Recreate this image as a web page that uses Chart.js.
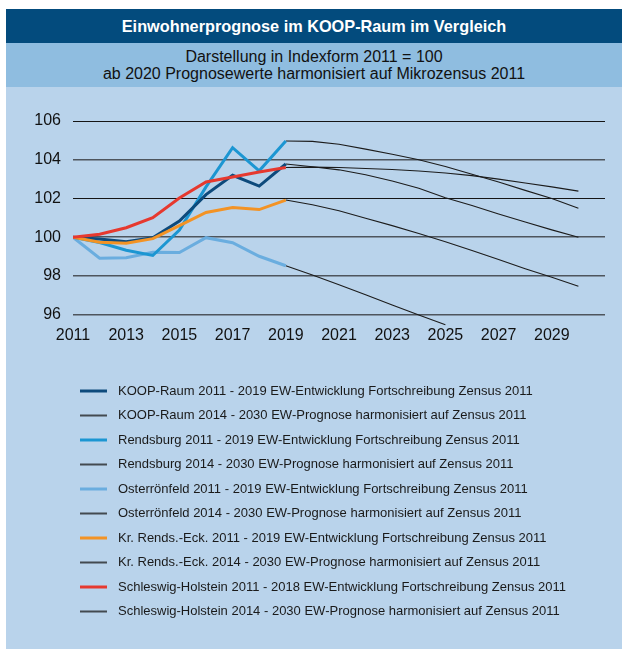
<!DOCTYPE html>
<html>
<head>
<meta charset="utf-8">
<title>Einwohnerprognose im KOOP-Raum im Vergleich</title>
<script src="https://cdn.jsdelivr.net/npm/chart.js@4.4.0/dist/chart.umd.min.js"></script>
<style>
  body { margin: 0; background: #fff; font-family: "Liberation Sans", Arial, sans-serif; }
  #panel { position: absolute; left: 6px; top: 9px; width: 616px; height: 640px; }
  #head { height: 34px; background: #034b7d; color: #fff; font-weight: bold; font-size: 16.3px; line-height: 34px; text-align: center; }
  #sub { height: 44px; background: #8fbde0; color: #111; font-size: 16px; line-height: 17px; text-align: center; padding-top: 5px; box-sizing: border-box; }
  #plot { height: 562px; background: #b9d3eb; }
  canvas { display: block; }
</style>
</head>
<body>
<div id="panel">
  <div id="head">Einwohnerprognose im KOOP-Raum im Vergleich</div>
  <div id="sub">Darstellung in Indexform 2011 = 100<br>ab 2020 Prognosewerte harmonisiert auf Mikrozensus 2011</div>
  <div id="plot"><canvas id="chart" width="616" height="562"></canvas></div>
</div>
<script>
/*--------------------DATA--------------------*/
const histYears = [2011, 2012, 2013, 2014, 2015, 2016, 2017, 2018, 2019];
const progYears = [2019, 2020, 2021, 2022, 2023, 2024, 2025, 2026, 2027, 2028, 2029, 2030];
const xTicks = [2011, 2013, 2015, 2017, 2019, 2021, 2023, 2025, 2027, 2029];
const yTicks = [96, 98, 100, 102, 104, 106];

// Entwicklung 2011 - 2019 (Index 2011 = 100)
const koopHist = [100, 99.91, 99.77, 99.97, 100.84, 102.2, 103.2, 102.64, 103.78];
const rendsHist = [100, 99.73, 99.33, 99.06, 100.37, 102.6, 104.62, 103.43, 104.97];
const osterHist = [100, 98.92, 98.94, 99.23, 99.21, 99.98, 99.72, 99.02, 98.53];
const kreisHist = [100, 99.74, 99.69, 99.93, 100.6, 101.28, 101.54, 101.43, 101.92];
const shHist = [100, 100.16, 100.49, 101.01, 102.03, 102.85, 103.11, 103.37, 103.6];

// Prognose bis 2030
const koopProg = [103.78, 103.64, 103.48, 103.23, 102.9, 102.53, 102.04, 101.64, 101.2, 100.79, 100.38, 100.0];
const rendsProg = [104.97, 104.95, 104.8, 104.55, 104.28, 104.0, 103.65, 103.25, 102.85, 102.42, 102.0, 101.5];
const osterProg = [98.53, 98.05, 97.55, 97.03, 96.5, 95.99, 95.48];
const kreisProg = [101.92, 101.68, 101.37, 100.98, 100.6, 100.19, 99.77, 99.32, 98.85, 98.38, 97.94, 97.47];
const shProg = [103.6, 103.62, 103.6, 103.55, 103.5, 103.42, 103.32, 103.18, 103.0, 102.8, 102.6, 102.38];

const labels = [
    'KOOP-Raum 2011 - 2019 EW-Entwicklung Fortschreibung Zensus 2011',
    'KOOP-Raum 2014 - 2030 EW-Prognose harmonisiert auf Zensus 2011',
    'Rendsburg 2011 - 2019 EW-Entwicklung Fortschreibung Zensus 2011',
    'Rendsburg 2014 - 2030 EW-Prognose harmonisiert auf Zensus 2011',
    'Osterrönfeld 2011 - 2019 EW-Entwicklung Fortschreibung Zensus 2011',
    'Osterrönfeld 2014 - 2030 EW-Prognose harmonisiert auf Zensus 2011',
    'Kr. Rends.-Eck. 2011 - 2019 EW-Entwicklung Fortschreibung Zensus 2011',
    'Kr. Rends.-Eck. 2014 - 2030 EW-Prognose harmonisiert auf Zensus 2011',
    'Schleswig-Holstein 2011 - 2018 EW-Entwicklung Fortschreibung Zensus 2011',
    'Schleswig-Holstein 2014 - 2030 EW-Prognose harmonisiert auf Zensus 2011'
];

/*--------------------METHOD--------------------*/
function points(years, values) {
    return values.map((v, i) => ({ x: years[i], y: v }));
}

function histSet(label, years, values, color, order) {
    return {
        label: label,
        data: points(years, values),
        borderColor: color,
        backgroundColor: color,
        borderWidth: 3,
        pointBorderWidth: 3,
        pointBorderColor: color,
        pointRadius: 0,
        pointHoverRadius: 0,
        order: order
    };
}

function progSet(label, years, values) {
    return {
        label: label,
        data: points(years, values),
        borderColor: '#1c1c1c',
        backgroundColor: '#1c1c1c',
        borderWidth: 1.1,
        pointBorderWidth: 1.1,
        pointBorderColor: '#1c1c1c',
        pointRadius: 0,
        pointHoverRadius: 0,
        order: 5
    };
}

// small line swatch for the legend, line sits in the left part of the image
function swatch(color, width) {
    let c = document.createElement('canvas');
    c.width = 36;
    c.height = 6;
    let ctx = c.getContext('2d');
    ctx.strokeStyle = color;
    ctx.lineWidth = Math.max(width, 1.5);
    ctx.beginPath();
    ctx.moveTo(0, 3);
    ctx.lineTo(27, 3);
    ctx.stroke();
    return c;
}

Chart.defaults.font.family = '"Liberation Sans", Arial, sans-serif';
Chart.defaults.color = '#111';

let datasets = [
    histSet(labels[0], histYears, koopHist, '#0d4a7c', 2),
    progSet(labels[1], progYears, koopProg),
    histSet(labels[2], histYears, rendsHist, '#1c96d2', 3),
    progSet(labels[3], progYears, rendsProg),
    histSet(labels[4], histYears, osterHist, '#6aaddf', 4),
    progSet(labels[5], progYears, osterProg),
    histSet(labels[6], histYears, kreisHist, '#f39325', 1),
    progSet(labels[7], progYears, kreisProg),
    histSet(labels[8], histYears, shHist, '#e6392f', 0),
    progSet(labels[9], progYears, shProg)
];

let strongGrid = (c) => c.tick && (c.tick.value === 106 || c.tick.value === 102);

let chart = new Chart(document.getElementById('chart'), {
    type: 'line',
    data: { datasets: datasets },
    options: {
        responsive: false,
        animation: false,
        events: [],
        layout: { padding: { top: 34, right: 17, bottom: 24, left: 0 } },
        scales: {
            x: {
                type: 'linear',
                min: 2011,
                max: 2031,
                afterBuildTicks: (s) => { s.ticks = xTicks.map(v => ({ value: v })); },
                afterFit: (s) => { s.height = 46.6; },
                grid: { display: false, drawTicks: false },
                border: { display: false },
                ticks: { padding: 0, autoSkip: false, maxRotation: 0, font: { size: 16 }, color: '#111', callback: (v) => String(v) }
            },
            y: {
                min: 95.4,
                max: 106,
                afterBuildTicks: (s) => { s.ticks = yTicks.map(v => ({ value: v })); },
                afterFit: (s) => { s.width = 67; },
                grid: {
                    drawTicks: false,
                    color: (c) => strongGrid(c) ? '#151515' : '#4e555d',
                    lineWidth: (c) => strongGrid(c) ? 1 : 1.6
                },
                border: { display: false },
                ticks: { padding: 12, font: { size: 16 }, color: '#111', callback: (v) => String(v) }
            }
        },
        plugins: {
            legend: {
                position: 'bottom',
                align: 'start',
                fullSize: false,
                labels: {
                    usePointStyle: true,
                    pointStyleWidth: 27,
                    padding: 11.5,
                    font: { size: 13 },
                    color: '#1a1a1a',
                    sort: (a, b) => a.datasetIndex - b.datasetIndex,
                    generateLabels: (ch) => {
                        let items = Chart.defaults.plugins.legend.labels.generateLabels(ch);
                        items.forEach(it => {
                            let ds = ch.data.datasets[it.datasetIndex];
                            it.pointStyle = swatch(ds.borderColor, ds.borderWidth);
                        });
                        return items;
                    }
                }
            },
            tooltip: { enabled: false }
        }
    }
});
</script>
</body>
</html>
